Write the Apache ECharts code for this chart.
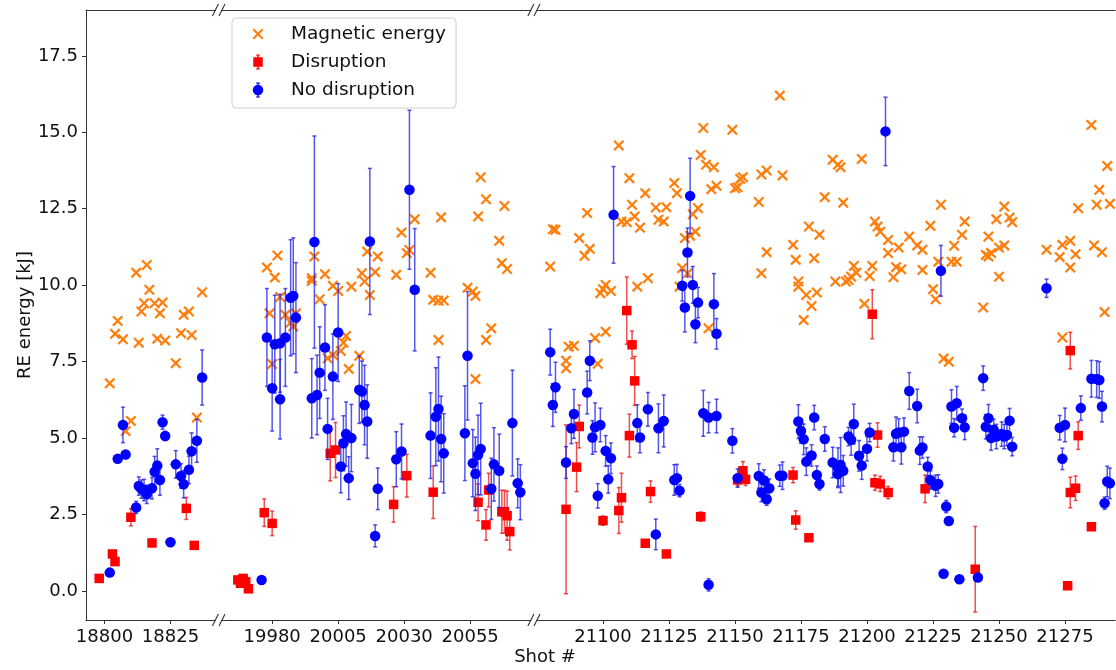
<!DOCTYPE html>
<html>
<head>
<meta charset="utf-8">
<script src="https://cdn.jsdelivr.net/npm/echarts@6/dist/echarts.min.js"></script>
<style>
  html, body { margin: 0; padding: 0; background: #fff; }
  #chart { width: 1116px; height: 670px; }
</style>
</head>
<body>
<div id="chart"></div>
<script>
// Magnetic energy per shot: [shot, energy kJ]
const magneticEnergy = [
  [18816,10.66],[18812,10.41],[18817,9.85],[18837,9.77],[18815,9.41],[18819,9.41],[18822,9.43],[18814,9.14],
  [18821,9.08],[18830,9.03],[18832,9.14],[18805,8.83],[18804,8.41],[18807,8.23],[18813,8.12],[18820,8.25],
  [18823,8.19],[18829,8.43],[18833,8.37],[18827,7.45],[18802,6.79],[18810,5.56],[18808,5.23],[18835,5.67],

  [19978,10.58],[19982,10.97],[19981,10.25],[19979,9.08],[19983,9.61],[19985,9.03],[19987,8.78],[19988,8.65],
  [19989,9.08],[19996,10.94],[19995,10.14],[19995,10.23],[20000,10.36],[19998,9.54],[20003,9.98],[20005,9.81],
  [20010,9.95],[20016,11.10],[20020,10.94],[20014,10.39],[20019,10.43],[20015,10.12],[20017,9.68],[20008,8.34],
  [20007,8.12],[20006,7.85],[20013,7.69],[19980,7.42],[20001,7.61],[20003,7.72],[20009,7.26],[20034,12.16],
  [20029,11.72],[20044,12.22],[20032,11.15],[20031,11.05],[20027,10.34],[20040,10.41],[20041,9.52],[20043,9.49],
  [20045,9.50],[20043,8.21],[20059,13.53],[20061,12.81],[20068,12.59],[20058,12.25],[20066,11.45],[20067,10.72],
  [20069,10.53],[20054,9.92],[20056,9.79],[20057,9.65],[20063,8.59],[20061,8.21],[20057,6.93],

  [21106,14.57],[21110,13.50],[21094,12.36],[21111,12.63],[21116,13.01],[21112,12.25],[21107,12.08],[21109,12.06],
  [21114,11.88],[21120,12.54],[21124,12.55],[21121,12.14],[21123,12.08],[21127,13.34],[21128,13.01],[21081,11.83],
  [21082,11.81],[21091,11.54],[21095,11.19],[21093,10.96],[21080,10.61],[21138,15.14],[21149,15.08],[21137,14.26],
  [21139,13.94],[21142,13.86],[21141,13.14],[21143,13.25],[21150,13.17],[21136,12.52],[21134,12.32],[21135,11.75],
  [21133,11.62],[21131,11.54],[21130,10.56],[21132,10.39],[21129,9.95],[21117,10.23],[21113,9.95],[21100,9.87],
  [21101,10.01],[21103,9.81],[21099,9.74],[21097,8.27],[21101,8.48],[21089,8.02],[21087,7.99],[21140,8.59],
  [21086,7.53],[21086,7.28],[21098,7.43],
  [21167,16.20],[21187,14.10],[21189,13.94],[21190,13.86],[21198,14.13],[21152,13.48],[21153,13.53],[21151,13.20],
  [21160,13.62],[21162,13.75],[21168,13.59],[21159,12.72],[21184,12.88],[21191,12.70],[21178,11.92],[21182,11.65],
  [21162,11.08],[21172,11.32],[21173,10.83],[21180,10.88],[21160,10.39],[21174,10.12],[21174,9.95],[21177,9.68],
  [21181,9.76],[21179,9.32],[21176,8.86],[21188,10.12],[21192,10.12],[21193,10.17],[21194,10.28],[21195,10.63],
  [21196,10.41],[21201,10.30],[21202,10.63],[21199,9.39],[21203,12.08],[21204,11.92],[21205,11.75],[21208,11.48],
  [21208,11.05],[21212,11.23],[21216,11.59],[21219,11.30],[21221,11.16],[21211,10.59],[21213,10.52],[21210,10.26],
  [21221,10.50],
  [21285,15.24],[21291,13.90],[21288,13.12],[21287,12.63],[21292,12.66],[21280,12.52],[21228,12.63],[21224,11.94],
  [21237,12.08],[21236,11.65],[21233,11.29],[21252,12.57],[21249,12.16],[21254,12.21],[21255,12.06],[21246,11.59],
  [21252,11.30],[21250,11.23],[21245,10.99],[21247,11.05],[21246,10.94],[21232,10.77],[21234,10.77],[21227,10.77],
  [21225,9.87],[21226,9.54],[21250,10.28],[21244,9.27],[21268,11.16],[21274,11.32],[21277,11.45],[21273,10.92],
  [21279,11.01],[21277,10.58],[21286,11.30],[21289,11.08],[21290,9.12],[21274,8.29],[21229,7.60],[21231,7.50]
];

// Runaway-electron energy, disruptive shots: [shot, energy kJ, error]
const disruption = [
  [18831,2.70,0.36],[18810,2.41,0.28],[18818,1.57,0.12],[18834,1.49,0.05],[18803,1.21,0.05],[18804,0.96,0.05],
  [18798,0.41,0],

  [19977,2.56,0.45],[19980,2.21,0.4],[19967,0.36,0],[19968,0.25,0],[19969,0.41,0],[19970,0.30,0],[19971,0.07,0],
  [20002,4.50,0.9],[20004,4.61,0.9],[20026,2.83,0.58],[20031,3.77,0.7],[20041,3.23,0.86],[20058,2.90,0.6],
  [20061,2.16,0.5],[20062,3.30,0.55],[20067,2.59,0.7],[20068,2.59,0.7],[20069,2.46,0.8],[20070,1.94,0.6],

  [21086,2.67,2.76],[21090,4.05,0.8],[21091,5.38,0.7],[21100,2.30,0.15],[21106,2.63,0.75],[21107,3.05,0.8],
  [21109,9.17,1.1],[21110,5.08,0.7],[21111,8.05,0.45],[21112,6.87,0.8],[21116,1.56,0.1],[21118,3.25,0.35],
  [21124,1.21,0.05],[21137,2.43,0.15],[21153,3.93,0.3],[21151,3.63,0.2],[21154,3.65,0.2],[21172,3.79,0.25],
  [21173,2.32,0.3],[21178,1.74,0],[21202,9.05,0.8],[21204,5.10,0.4],[21203,3.54,0.25],[21205,3.50,0.25],
  [21208,3.22,0.2],[21222,3.34,0.45],[21241,0.71,1.4],[21277,7.86,0.6],[21280,5.08,0.45],[21277,3.22,0.5],
  [21279,3.36,0.4],[21285,2.10,0],[21276,0.17,0]
];

// Runaway-electron energy, non-disruptive shots: [shot, energy kJ, error]
const noDisruption = [
  [18837,6.98,0.9],[18807,5.43,0.58],[18822,5.52,0.23],[18823,5.07,0.15],[18805,4.32,0],[18808,4.46,0],
  [18835,4.91,0.7],[18833,4.57,0.6],[18832,3.96,0.45],[18827,4.14,0.45],[18829,3.76,0.4],[18830,3.49,0.45],
  [18820,4.10,0.55],[18819,3.90,0.5],[18821,3.63,0.5],[18813,3.43,0.3],[18814,3.33,0.3],[18815,3.30,0.35],
  [18816,3.16,0.3],[18818,3.36,0.35],[18812,2.73,0.2],[18825,1.59,0],[18802,0.60,0],

  [19996,11.41,3.47],[20017,11.43,2.39],[20032,13.12,2.6],[20034,9.85,2.0],[20054,7.69,2.1],[19988,9.65,1.9],
  [19987,9.59,1.9],[19989,8.94,1.8],[19978,8.29,1.6],[19981,8.07,1.6],[19983,8.10,1.6],[19985,8.29,1.6],
  [20000,7.96,1.4],[20005,8.45,1.6],[19980,6.63,1.4],[19983,6.27,1.3],[19995,6.30,1.3],[19997,6.41,1.3],
  [19998,7.14,1.5],[20003,7.01,1.4],[20001,5.30,1.0],[20008,5.13,1.05],[20007,4.83,0.9],[20010,5.00,1.1],
  [20006,4.07,0.86],[20009,3.69,0.7],[20013,6.58,1.1],[20014,6.52,1.0],[20015,6.08,1.3],[20016,5.54,1.2],
  [20020,3.34,0.68],[20019,1.80,0.36],[19976,0.36,0],[20027,4.31,0.9],[20029,4.56,0.9],[20040,5.08,1.4],
  [20042,5.70,1.6],[20043,5.95,1.7],[20044,4.97,1.4],[20045,4.50,1.3],[20053,5.16,1.55],[20056,4.18,1.1],
  [20057,3.83,1.2],[20058,4.45,1.3],[20059,4.64,1.5],[20064,4.14,1.2],[20066,3.93,1.2],[20063,3.34,1.0],
  [20071,5.49,1.73],[20073,3.52,0.8],[20074,3.23,0.9],

  [21104,12.30,1.58],[21133,12.92,1.23],[21132,11.07,0.8],[21130,9.98,0.5],[21134,10.01,0.6],[21136,9.43,0.5],
  [21131,9.27,0.8],[21142,9.38,1.0],[21135,8.72,0.6],[21143,8.41,0.5],[21080,7.81,0.75],[21082,6.66,0.82],
  [21081,6.08,0.7],[21095,7.53,0.65],[21094,6.49,0.7],[21089,5.79,0.8],[21088,5.32,0.5],[21086,4.20,0.52],
  [21096,5.02,0.55],[21097,5.35,0.8],[21099,5.43,0.55],[21101,4.58,0.5],[21103,4.34,0.5],[21102,3.65,0.45],
  [21098,3.11,0.4],[21113,5.49,0.6],[21114,5.02,0.5],[21117,5.94,0.55],[21121,5.32,0.8],[21123,5.56,0.85],
  [21127,3.63,0.5],[21128,3.69,0.45],[21129,3.28,0.2],[21138,5.81,0.75],[21140,5.67,0.5],[21143,5.72,0.55],
  [21149,4.91,0.4],[21120,1.85,0.5],[21140,0.20,0.2],[21151,3.69,0.3],[21159,3.76,0.4],[21161,3.61,0.35],
  [21160,3.22,0.3],[21162,3.00,0.2],[21163,3.36,0.3],[21167,3.77,0.35],[21168,3.77,0.45],[21174,5.54,0.55],
  [21175,5.23,0.4],[21176,4.96,0.5],[21180,5.67,0.4],[21179,4.43,0.35],[21177,4.23,0.45],[21181,3.79,0.3],
  [21182,3.50,0.2],[21184,4.97,0.4],[21187,4.20,0.5],[21189,4.03,0.65],[21190,4.12,0.9],[21191,3.93,0.5],
  [21189,3.82,0.4],[21193,5.05,0.3],[21194,4.94,0.5],[21195,5.46,0.65],[21197,4.42,0.5],[21198,4.10,0.45],
  [21200,4.65,0.4],[21201,5.18,0.3],[21207,15.03,1.12],[21216,6.54,0.6],[21219,6.05,0.55],[21211,5.14,0.55],
  [21212,5.18,0.45],[21214,5.21,0.45],[21210,4.70,0.45],[21213,4.70,0.55],[21220,4.59,0.45],[21221,4.69,0.35],
  [21223,4.07,0.3],[21224,3.63,0.3],[21226,3.44,0.35],[21227,3.50,0.3],[21230,2.76,0.2],[21231,2.29,0.1],
  [21228,10.47,0.83],[21244,6.96,0.4],[21232,6.03,0.55],[21234,6.14,0.55],[21236,5.65,0.3],[21233,5.34,0.3],
  [21237,5.35,0.4],[21246,5.65,0.45],[21245,5.37,0.4],[21248,5.27,0.35],[21247,5.00,0.4],[21249,5.05,0.4],
  [21251,5.13,0.4],[21252,5.05,0.4],[21253,5.10,0.35],[21254,5.57,0.4],[21255,4.72,0.3],[21229,0.56,0],
  [21235,0.38,0],[21242,0.44,0],[21268,9.90,0.3],[21273,5.34,0.4],[21275,5.43,0.55],[21274,4.32,0.35],
  [21281,5.98,0.4],[21285,6.94,0.6],[21287,6.93,0.6],[21288,6.90,0.6],[21289,6.03,0.5],[21291,3.58,0.5],
  [21292,3.52,0.5],[21290,2.87,0.2]
];

// Shot ranges shown on the three pieces of the broken x axis, and their tick labels
const shotRanges = [[18793, 18842], [19961, 20078], [21075, 21294]];
const shotTicks = [
  [18800, 18825],
  [19980, 20005, 20030, 20055],
  [21100, 21125, 21150, 21175, 21200, 21225, 21250, 21275]
];
const energyTicks = [0, 2.5, 5, 7.5, 10, 12.5, 15, 17.5];
const energyRange = [-0.95, 19.0];

// ---- layout ----
const PX_PER_SHOT = 2.64;
const gridLefts = [86, 222, 537];
const gridTop = 10, gridHeight = 610;
const FONT = 'DejaVu Sans';
const AXIS_COLOR = '#333';
const TEXT_COLOR = '#111';

function xMarkPath(cx, cy, h, a) {
  const p = [[-h,-h+a],[-h+a,-h],[0,-a],[h-a,-h],[h,-h+a],[a,0],[h,h-a],[h-a,h],[0,a],[-h+a,h],[-h,h-a],[-a,0]];
  return 'M' + p.map(([x, y]) => (cx + x).toFixed(2) + ',' + (cy + y).toFixed(2)).join('L') + 'Z';
}
const xSymbol = 'path://' + xMarkPath(5, 5, 5, 1.45);
const barPath = 'M14.3,2.5H15.7V17.5H14.3Z M13,2.5H17V3.5H13Z M13,16.5H17V17.5H13Z';
const legendIcons = {
  magnetic: 'path://M0,0M30,20' + xMarkPath(15, 10, 5.5, 1.5),
  disruption: 'path://M0,0M30,20' + barPath + 'M10.25,5.25H19.75V14.75H10.25Z',
  noDisruption: 'path://M0,0M30,20' + barPath + 'M20.25,10A5.25,5.25,0,1,1,9.75,10A5.25,5.25,0,1,1,20.25,10Z'
};

function errorBarRenderer(color) {
  return function (params, api) {
    const x = api.value(0);
    const lo = api.coord([x, api.value(1)]);
    const hi = api.coord([x, api.value(2)]);
    const cap = 2;
    const style = { stroke: color, lineWidth: 1.5, fill: null };
    return {
      type: 'group',
      children: [
        { type: 'line', shape: { x1: lo[0], y1: lo[1], x2: hi[0], y2: hi[1] }, style },
        { type: 'line', shape: { x1: hi[0] - cap, y1: hi[1], x2: hi[0] + cap, y2: hi[1] }, style },
        { type: 'line', shape: { x1: lo[0] - cap, y1: lo[1], x2: lo[0] + cap, y2: lo[1] }, style }
      ]
    };
  };
}

const grids = [], xAxes = [], topAxes = [], yAxes = [], series = [];

shotRanges.forEach(([lo, hi], i) => {
  const width = (hi - lo) * PX_PER_SHOT;
  grids.push({ left: gridLefts[i], top: gridTop, width: width, height: gridHeight });
  xAxes.push({
    type: 'value', gridIndex: i, min: lo, max: hi, position: 'bottom',
    axisLine: { show: true, onZero: false, lineStyle: { color: AXIS_COLOR, width: 1 } },
    axisTick: { show: true, customValues: shotTicks[i], length: 4, lineStyle: { color: AXIS_COLOR } },
    axisLabel: {
      customValues: shotTicks[i], fontSize: 18, fontFamily: FONT, color: TEXT_COLOR, margin: 8,
      formatter: v => String(v)
    },
    splitLine: { show: false }
  });
  topAxes.push({
    type: 'value', gridIndex: i, min: lo, max: hi, position: 'top',
    axisLine: { show: true, onZero: false, lineStyle: { color: AXIS_COLOR, width: 1 } },
    axisTick: { show: false }, axisLabel: { show: false }, splitLine: { show: false }
  });
  yAxes.push({
    type: 'value', gridIndex: i, min: energyRange[0], max: energyRange[1], show: i === 0,
    name: i === 0 ? 'RE energy [kJ]' : '',
    nameLocation: 'middle', nameGap: 43,
    nameTextStyle: { fontSize: 18, fontFamily: FONT, color: TEXT_COLOR },
    axisLine: { show: true, onZero: false, lineStyle: { color: AXIS_COLOR, width: 1 } },
    axisTick: { show: true, customValues: energyTicks, length: 4, lineStyle: { color: AXIS_COLOR } },
    axisLabel: {
      customValues: energyTicks, fontSize: 18, fontFamily: FONT, color: TEXT_COLOR, margin: 8,
      formatter: v => Number(v).toFixed(1)
    },
    splitLine: { show: false }
  });

  const inRange = d => d[0] >= lo && d[0] <= hi;
  const bars = rows => rows.filter(d => inRange(d) && d[2] > 0).map(d => [d[0], d[1] - d[2], d[1] + d[2]]);
  const points = rows => rows.filter(inRange).map(d => [d[0], d[1]]);

  series.push({
    name: 'Magnetic energy', type: 'scatter', xAxisIndex: i, yAxisIndex: i, z: 2,
    symbol: xSymbol, symbolSize: 11, itemStyle: { color: '#ff7f0e', opacity: 1 },
    data: points(magneticEnergy)
  });
  series.push({
    name: 'Disruption', type: 'scatter', xAxisIndex: i, yAxisIndex: i, z: 4,
    symbol: 'rect', symbolSize: 9.5, itemStyle: { color: '#ff0000', opacity: 1 },
    data: points(disruption)
  });
  series.push({
    name: 'Disruption', type: 'custom', xAxisIndex: i, yAxisIndex: i, z: 3, clip: true,
    renderItem: errorBarRenderer('rgba(235,20,20,0.75)'), encode: { x: 0, y: [1, 2] },
    data: bars(disruption)
  });
  series.push({
    name: 'No disruption', type: 'scatter', xAxisIndex: i, yAxisIndex: i, z: 6,
    symbol: 'circle', symbolSize: 10.5, itemStyle: { color: '#0000ff', opacity: 1 },
    data: points(noDisruption)
  });
  series.push({
    name: 'No disruption', type: 'custom', xAxisIndex: i, yAxisIndex: i, z: 5, clip: true,
    renderItem: errorBarRenderer('rgba(30,30,230,0.75)'), encode: { x: 0, y: [1, 2] },
    data: bars(noDisruption)
  });
});

// Diagonal "//" marks where the x axis is broken, top and bottom
const breakMarks = [];
const edges = [];
for (let i = 0; i < shotRanges.length - 1; i++) {
  edges.push(gridLefts[i] + (shotRanges[i][1] - shotRanges[i][0]) * PX_PER_SHOT);
  edges.push(gridLefts[i + 1]);
}
edges.forEach(x => {
  [gridTop, gridTop + gridHeight].forEach(y => {
    breakMarks.push({
      type: 'line', silent: true, z: 10,
      shape: { x1: x - 3, y1: y + 6, x2: x + 3, y2: y - 6 },
      style: { stroke: AXIS_COLOR, lineWidth: 1.1 }
    });
  });
});

const chart = echarts.init(document.getElementById('chart'), null, { renderer: 'canvas' });
chart.setOption({
  animation: false,
  backgroundColor: '#fff',
  grid: grids,
  xAxis: xAxes.concat(topAxes),
  yAxis: yAxes,
  legend: {
    orient: 'vertical', left: 232, top: 18,
    padding: [6, 10, 8, 11], itemGap: 8, itemWidth: 30, itemHeight: 20,
    backgroundColor: 'rgba(255,255,255,0.85)', borderColor: '#d0d0d0', borderWidth: 1, borderRadius: 4,
    selectedMode: false,
    textStyle: { fontSize: 18.5, fontFamily: FONT, color: TEXT_COLOR, padding: [0, 0, 0, 13] },
    data: [
      { name: 'Magnetic energy', icon: legendIcons.magnetic, itemStyle: { color: '#ff7f0e', opacity: 1 } },
      { name: 'Disruption', icon: legendIcons.disruption, itemStyle: { color: '#ff0000', opacity: 1 } },
      { name: 'No disruption', icon: legendIcons.noDisruption, itemStyle: { color: '#0000ff', opacity: 1 } }
    ]
  },
  graphic: breakMarks.concat([{
    type: 'text', x: 545, y: 657, silent: true,
    style: { text: 'Shot #', fontSize: 18, fontFamily: FONT, fill: TEXT_COLOR, align: 'center', verticalAlign: 'middle' }
  }]),
  series: series
});
</script>
</body>
</html>
